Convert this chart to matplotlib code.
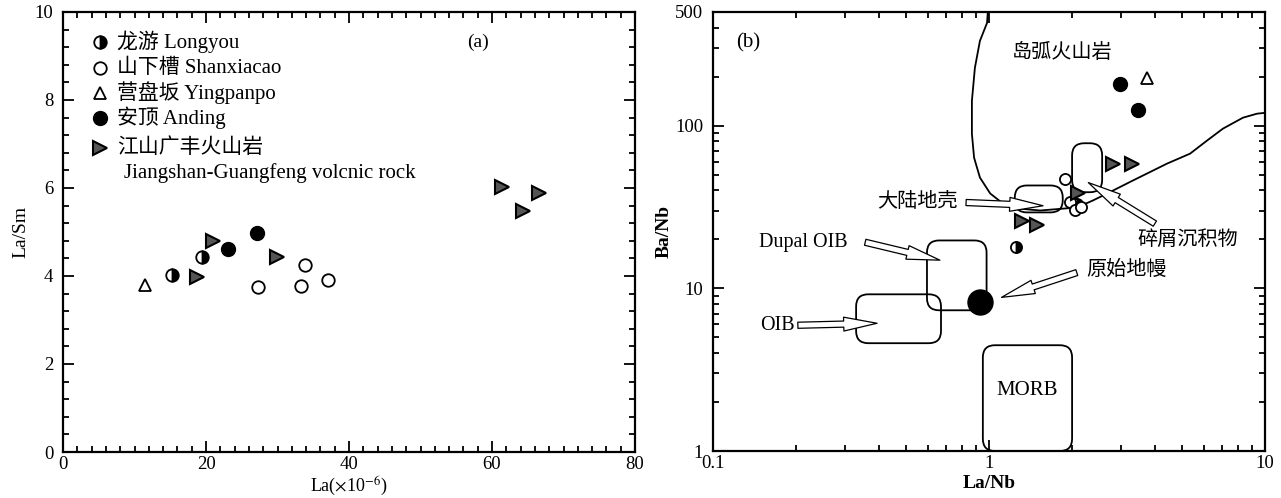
import matplotlib
matplotlib.use("Agg")
import matplotlib.pyplot as plt
from matplotlib.patches import FancyBboxPatch
from matplotlib.ticker import MultipleLocator, FixedLocator, FixedFormatter, LogLocator, NullFormatter

plt.rcParams["font.family"] = ["Liberation Serif", "Noto Sans CJK SC"]
plt.rcParams["mathtext.fontset"] = "stix"

# ---- panel (a): La vs La/Sm ----
longyou_la = [15.2, 19.4]
longyou_lasm = [4.02, 4.43]
shanxiacao_la = [27.3, 33.8, 33.3, 37.1]
shanxiacao_lasm = [3.75, 4.25, 3.77, 3.91]
yingpanpo_la = [11.5]
yingpanpo_lasm = [3.80]
anding_la = [23.1, 27.1]
anding_lasm = [4.61, 4.98]
jg_la = [21.0, 18.7, 29.9, 61.4, 66.6, 64.3]
jg_lasm = [4.80, 3.98, 4.43, 6.02, 5.89, 5.48]

# ---- panel (b): La/Nb vs Ba/Nb ----
longyou_lanb = [1.25, 2.08]
longyou_banb = [17.9, 33.0]
shanxiacao_lanb = [1.88, 1.96, 2.05, 2.15]
shanxiacao_banb = [47.0, 34.0, 30.5, 31.5]
yingpanpo_lanb = [3.73]
yingpanpo_banb = [197]
anding_lanb = [2.98, 3.47]
anding_banb = [181, 124]
jg_lanb = [1.32, 1.49, 2.10, 2.81, 3.30]
jg_banb = [25.9, 24.4, 38.8, 58.5, 58.5]
pm_lanb, pm_banb = 0.93, 8.2  # primitive mantle

# island arc boundary curve
arc_x = [0.99, 0.984, 0.927, 0.889, 0.867, 0.867, 0.883, 0.927, 1.01, 1.124, 1.263,
         1.531, 2.08, 2.38, 2.68, 3.32, 4.42, 5.35, 6.16, 7.04, 8.32, 9.35, 10.0]
arc_y = [500, 429, 332, 227, 142, 89.3, 63.6, 48.0, 38.3, 33.2, 31.0,
         30.1, 31.4, 34.7, 38.3, 46.0, 58.5, 67.3, 80.9, 95.9, 112, 118.5, 120]

# field boxes: (x0, x1, y0, y1)
boxes = {
    "crust": (1.24, 1.85, 29.3, 42.9),
    "sediment": (2.0, 2.57, 39.0, 78.0),
    "dupal": (0.596, 0.98, 7.33, 19.7),
    "oib": (0.33, 0.67, 4.6, 9.19),
    "morb": (0.95, 2.0, 1.0, 4.47),
}

# labels with arrows: text, text pos, ha, arrow start, arrow end
arrow_labels = [
    ("大陆地壳", (0.772, 33.7), "right", (0.826, 33.7), (1.57, 32.2)),
    ("Dupal OIB", (0.308, 19.2), "right", (0.356, 19.2), (0.664, 14.9)),
    ("OIB", (0.198, 5.93), "right", (0.203, 5.93), (0.393, 6.1)),
    ("原始地幔", (2.26, 12.9), "left", (2.08, 12.5), (1.11, 8.8)),
    ("碎屑沉积物", (3.45, 19.7), "left", (3.99, 25.0), (2.29, 44.7)),
]

W, H = 1281, 498
fig = plt.figure(figsize=(W / 100, H / 100), dpi=100)
ax1 = fig.add_axes([63 / W, 46 / H, 572 / W, 440 / H])
ax2 = fig.add_axes([713 / W, 47 / H, 552 / W, 439 / H])

tri = dict(marker=">", ms=10, mfc="#555555", mec="black", mew=1.5, ls="none")
half = dict(marker="o", ms=9, fillstyle="right", mfc="black", mfcalt="white", mec="black", mew=1.3, ls="none")
opn = dict(marker="o", ms=9, mfc="white", mec="black", mew=1.3, ls="none")
tri_up = dict(marker="^", ms=9, mfc="white", mec="black", mew=1.3, ls="none")
full = dict(marker="o", ms=10, mfc="black", mec="black", ls="none")


def style_axes(ax):
    for s in ax.spines.values():
        s.set_linewidth(1.6)
    ax.tick_params(which="both", direction="in", top=True, right=True, labelsize=13.5, width=1.3)
    ax.tick_params(which="major", length=8)
    ax.tick_params(which="minor", length=4)
    ax.tick_params(axis="x", pad=3)
    ax.tick_params(axis="y", pad=7)


# panel (a)
ax1.plot(longyou_la, longyou_lasm, **half)
ax1.plot(shanxiacao_la, shanxiacao_lasm, **opn)
ax1.plot(yingpanpo_la, yingpanpo_lasm, **tri_up)
ax1.plot(anding_la, anding_lasm, **full)
ax1.plot(jg_la, jg_lasm, **tri)
ax1.set_xlim(0, 80)
ax1.set_ylim(0, 10)
ax1.xaxis.set_major_locator(MultipleLocator(20))
ax1.xaxis.set_minor_locator(MultipleLocator(2))
ax1.yaxis.set_major_locator(MultipleLocator(2))
ax1.yaxis.set_minor_locator(MultipleLocator(0.4))
style_axes(ax1)
ax1.set_xlabel(r"La($\times$10$^{-6}$)", fontsize=13, labelpad=1)
ax1.set_ylabel("La/Sm", fontsize=14, labelpad=4)
ax1.text(56.5, 9.2, "(a)", fontsize=14)

# legend drawn by hand so the triangle sits on the first line of its two-line label
legend_rows = [
    (half, "龙游 Longyou"),
    (opn, "山下槽 Shanxiacao"),
    (tri_up, "营盘坂 Yingpanpo"),
    (full, "安顶 Anding"),
    (tri, "江山广丰火山岩"),
]
row_y = [0.932, 0.873, 0.816, 0.759, 0.691]
for (style, label), y in zip(legend_rows, row_y):
    ax1.plot([0.065], [y], transform=ax1.transAxes, clip_on=False, **style)
    ax1.text(0.094, y, label, transform=ax1.transAxes, fontsize=15, va="center", ha="left")
ax1.text(0.106, 0.634, "Jiangshan-Guangfeng volcnic rock", transform=ax1.transAxes,
         fontsize=15, va="center", ha="left")

# panel (b)
ax2.set_xscale("log")
ax2.set_yscale("log")
ax2.set_xlim(0.1, 10)
ax2.set_ylim(1, 500)

aspect = 552 / 439
t = ax2.transData + ax2.transAxes.inverted()
for x0, x1, y0, y1 in boxes.values():
    (a0, b0), (a1, b1) = t.transform([(x0, y0), (x1, y1)])
    ax2.add_patch(FancyBboxPatch((a0, b0), a1 - a0, b1 - b0,
                                 boxstyle="round,pad=0,rounding_size=0.022",
                                 mutation_aspect=aspect, transform=ax2.transAxes,
                                 fill=False, ec="black", lw=1.3, clip_on=False))

ax2.plot(arc_x, arc_y, color="black", lw=1.3)

for txt, pos, ha, start, end in arrow_labels:
    ax2.text(pos[0], pos[1], txt, fontsize=14.5, ha=ha, va="center")
    ax2.annotate("", xy=end, xytext=start,
                 arrowprops=dict(arrowstyle="simple,head_length=1.2,head_width=0.5,tail_width=0.22",
                                 fc="white", ec="black", lw=0.9, mutation_scale=20,
                                 shrinkA=0, shrinkB=0))

ax2.text(1.21, 277, "岛弧火山岩", fontsize=14.5, ha="left", va="center")
ax2.text(1.37, 2.37, "MORB", fontsize=15, ha="center", va="center")
ax2.text(0.134, 323, "(b)", fontsize=15, ha="center", va="center")

ax2.plot(longyou_lanb, longyou_banb, **{**half, "ms": 8})
ax2.plot(shanxiacao_lanb, shanxiacao_banb, **{**opn, "ms": 8})
ax2.plot(yingpanpo_lanb, yingpanpo_banb, **tri_up)
ax2.plot(anding_lanb, anding_banb, **full)
ax2.plot(jg_lanb, jg_banb, **tri)
ax2.plot(pm_lanb, pm_banb, marker="o", ms=18, mfc="black", mec="black", ls="none")

ax2.xaxis.set_major_locator(FixedLocator([0.1, 1, 10]))
ax2.xaxis.set_major_formatter(FixedFormatter(["0.1", "1", "10"]))
ax2.xaxis.set_minor_locator(LogLocator(base=10, subs=range(2, 10)))
ax2.xaxis.set_minor_formatter(NullFormatter())
ax2.yaxis.set_major_locator(FixedLocator([1, 10, 100, 500]))
ax2.yaxis.set_major_formatter(FixedFormatter(["1", "10", "100", "500"]))
ax2.yaxis.set_minor_locator(LogLocator(base=10, subs=range(2, 10)))
ax2.yaxis.set_minor_formatter(NullFormatter())
style_axes(ax2)
ax2.set_xlabel("La/Nb", fontsize=14, fontweight="bold", labelpad=2)
ax2.set_ylabel("Ba/Nb", fontsize=14, fontweight="bold", labelpad=2)

fig.savefig("out.png", dpi=100)
